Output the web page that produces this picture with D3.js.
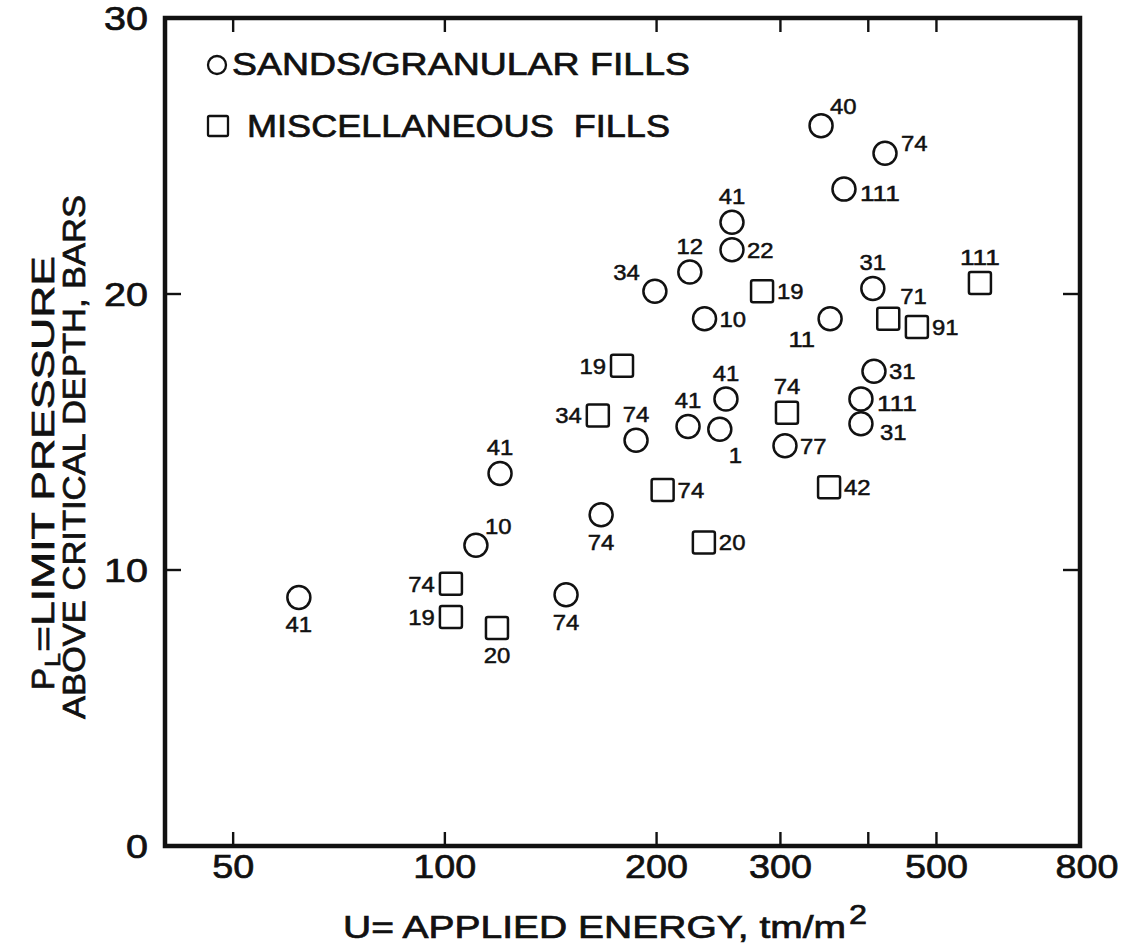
<!DOCTYPE html>
<html>
<head>
<meta charset="utf-8">
<script src="https://cdn.jsdelivr.net/npm/d3@7"></script>
<style>
  html, body { margin: 0; padding: 0; background: #fff; }
  svg { display: block; }
  text { font-family: "Liberation Sans", Arial, Helvetica, sans-serif; fill: #111; }
</style>
</head>
<body>
<svg id="chart" width="1134" height="947"></svg>
<script>
// ---- data ----
const sandsU   = [62, 110.7, 119.8, 148.7, 166.8, 187, 198.9, 223, 221.7, 234, 246, 251, 256, 256, 304.5, 342.7, 353, 369.4, 406, 407.5, 390.5, 390.5, 422.5];
const sandsPL  = [9.0, 10.9, 13.5, 9.1, 12.0, 14.7, 20.1, 20.8, 15.2, 19.1, 15.1, 16.2, 22.6, 21.6, 14.5, 26.1, 19.1, 23.8, 20.2, 17.2, 16.2, 15.3, 25.1];
const sandsRef = ["41", "10", "41", "74", "74", "74", "34", "12", "41", "10", "1", "41", "41", "22", "77", "40", "11", "111", "31", "31", "111", "31", "74"];
const sandsRefSide = ["b", "tr", "t", "b", "b", "t", "tl", "t", "t", "r", "br", "t", "t", "r", "r", "tr", "bl", "r2", "t", "r", "r2", "r3", "tr2"];

const miscU   = [102, 102, 118.6, 165, 178.6, 204, 233.5, 282.5, 306.5, 351.8, 427, 469, 576.5];
const miscPL  = [9.5, 8.3, 7.9, 15.6, 17.4, 12.9, 11.0, 20.1, 15.7, 13.0, 19.1, 18.8, 20.4];
const miscRef = ["74", "19", "20", "34", "19", "74", "20", "19", "74", "42", "71", "91", "111"];
const miscRefSide = ["l", "l", "b", "l", "l", "r", "r", "r", "t", "r", "tr3", "r", "t"];

const xDomain = [40, 800];
const yDomain = [0, 30];
const xTickMarks = [50, 100, 200, 300, 400, 500];
const xTickLabels = [50, 100, 200, 300, 500, 800];
const yTickMarks = [10, 20];
const yTickLabels = [0, 10, 20, 30];
const legendItems = ["SANDS/GRANULAR FILLS", "MISCELLANEOUS  FILLS"];

// ---- layout ----
const L = 165, R = 1080, T = 18, B = 846;
const svg = d3.select("#chart");
const x = d3.scaleLog().domain(xDomain).range([L, R]);
const y = d3.scaleLinear().domain(yDomain).range([B, T]);

const ink = "#111";
const heavy = 0.7;

// frame
svg.append("rect").attr("x", L).attr("y", T).attr("width", R - L).attr("height", B - T)
  .attr("fill", "none").attr("stroke", ink).attr("stroke-width", 4.5);

// ticks (all inward)
const tk = svg.append("g").attr("stroke", ink).attr("stroke-width", 2.4);
xTickMarks.forEach(v => {
  tk.append("line").attr("x1", x(v)).attr("x2", x(v)).attr("y1", B).attr("y2", B - 14);
  tk.append("line").attr("x1", x(v)).attr("x2", x(v)).attr("y1", T).attr("y2", T + 14);
});
yTickMarks.forEach(v => {
  tk.append("line").attr("x1", L).attr("x2", L + 16).attr("y1", y(v)).attr("y2", y(v));
  tk.append("line").attr("x1", R).attr("x2", R - 17).attr("y1", y(v)).attr("y2", y(v));
});

// tick labels
svg.append("g").selectAll("text").data(xTickLabels).join("text")
  .attr("x", d => x(d) + (d === 800 ? 7 : 0))
  .attr("y", 878)
  .attr("text-anchor", "middle")
  .attr("font-size", 34)
  .attr("stroke", ink).attr("stroke-width", heavy)
  .attr("textLength", d => String(d).length * 21)
  .attr("lengthAdjust", "spacingAndGlyphs")
  .text(d => d);

svg.append("g").selectAll("text").data(yTickLabels).join("text")
  .attr("x", 148)
  .attr("y", d => y(d) + 12)
  .attr("text-anchor", "end")
  .attr("font-size", 34)
  .attr("stroke", ink).attr("stroke-width", heavy)
  .attr("textLength", d => String(d).length * 22)
  .attr("lengthAdjust", "spacingAndGlyphs")
  .text(d => d);

// x axis title
svg.append("text").attr("x", 343).attr("y", 938).attr("font-size", 31)
  .attr("stroke", ink).attr("stroke-width", heavy)
  .attr("textLength", 503).attr("lengthAdjust", "spacingAndGlyphs")
  .style("white-space", "pre")
  .text("U= APPLIED ENERGY, tm/m");
svg.append("text").attr("x", 849).attr("y", 924).attr("font-size", 28)
  .attr("stroke", ink).attr("stroke-width", heavy)
  .attr("textLength", 18).attr("lengthAdjust", "spacingAndGlyphs")
  .text("2");

// y axis title (two lines, rotated)
const yt1 = svg.append("g").attr("transform", "translate(54,690) rotate(-90)")
  .attr("stroke", ink).attr("stroke-width", heavy);
yt1.append("text").attr("x", 0).attr("y", 0).attr("font-size", 31)
  .attr("textLength", 22).attr("lengthAdjust", "spacingAndGlyphs").text("P");
yt1.append("text").attr("x", 23).attr("y", 6).attr("font-size", 22)
  .attr("textLength", 14).attr("lengthAdjust", "spacingAndGlyphs").text("L");
yt1.append("text").attr("x", 38).attr("y", 0).attr("font-size", 31)
  .attr("textLength", 396).attr("lengthAdjust", "spacingAndGlyphs")
  .style("white-space", "pre").text("=LIMIT PRESSURE");

svg.append("g").attr("transform", "translate(85,719) rotate(-90)")
  .append("text").attr("x", 0).attr("y", 0).attr("font-size", 31)
  .attr("stroke", ink).attr("stroke-width", heavy)
  .attr("textLength", 524).attr("lengthAdjust", "spacingAndGlyphs")
  .style("white-space", "pre")
  .text("ABOVE CRITICAL DEPTH, BARS");

// legend
const lg = svg.append("g");
lg.append("circle").attr("cx", 217).attr("cy", 65).attr("r", 9).attr("fill", "none").attr("stroke", ink).attr("stroke-width", 2.3);
lg.append("rect").attr("x", 208).attr("y", 116).attr("width", 20).attr("height", 20).attr("rx", 1.5)
  .attr("fill", "none").attr("stroke", ink).attr("stroke-width", 2.3);
lg.selectAll("text").data(legendItems).join("text")
  .attr("x", (d, i) => i === 0 ? 232 : 247)
  .attr("y", (d, i) => i === 0 ? 75 : 137)
  .attr("font-size", 31)
  .attr("stroke", ink).attr("stroke-width", heavy)
  .attr("textLength", (d, i) => i === 0 ? 458 : 423)
  .attr("lengthAdjust", "spacingAndGlyphs")
  .style("white-space", "pre")
  .text(d => d);

// point label placement relative to the marker
const place = {
  t:   { dx: 0,   dy: -26, a: "middle" },
  b:   { dx: 0,   dy: 27,  a: "middle" },
  r:   { dx: 15,  dy: 0,   a: "start" },
  r2:  { dx: 16,  dy: 4,   a: "start" },
  r3:  { dx: 19,  dy: 8,   a: "start" },
  l:   { dx: -16, dy: 0,   a: "end" },
  tl:  { dx: -15, dy: -19, a: "end" },
  tr:  { dx: 9,   dy: -19, a: "start" },
  tr2: { dx: 16,  dy: -10, a: "start" },
  tr3: { dx: 12,  dy: -23, a: "start" },
  bl:  { dx: -15, dy: 20,  a: "end" },
  br:  { dx: 9,   dy: 26,  a: "start" }
};

const sands = sandsU.map((u, i) => ({ u, p: sandsPL[i], ref: sandsRef[i], side: sandsRefSide[i] }));
const misc = miscU.map((u, i) => ({ u, p: miscPL[i], ref: miscRef[i], side: miscRefSide[i] }));

const pts = svg.append("g").attr("fill", "none").attr("stroke", ink).attr("stroke-width", 2.5);
pts.selectAll("circle").data(sands).join("circle")
  .attr("cx", d => x(d.u)).attr("cy", d => y(d.p)).attr("r", 11.5);
pts.selectAll("rect").data(misc).join("rect")
  .attr("x", d => x(d.u) - 11).attr("y", d => y(d.p) - 11)
  .attr("width", 22).attr("height", 22).attr("rx", 2);

const lab = svg.append("g").attr("font-size", 22)
  .attr("stroke", ink).attr("stroke-width", 0.5);
lab.selectAll("text").data(sands.concat(misc)).join("text")
  .attr("x", d => x(d.u) + place[d.side].dx)
  .attr("y", d => y(d.p) + place[d.side].dy + 7.8)
  .attr("text-anchor", d => place[d.side].a)
  .attr("textLength", d => d.ref.length * 13.3)
  .attr("lengthAdjust", "spacingAndGlyphs")
  .text(d => d.ref);
</script>
</body>
</html>
